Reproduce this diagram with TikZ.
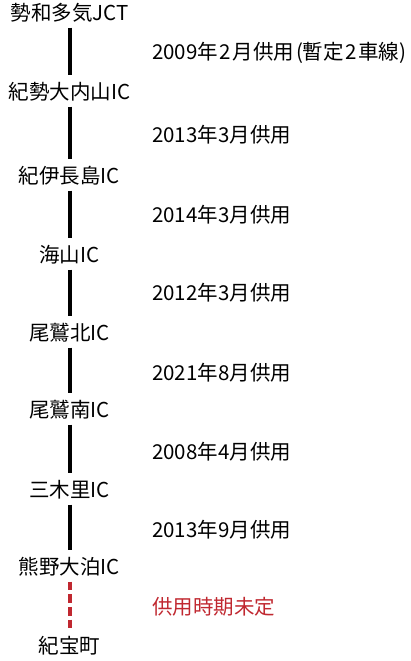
\documentclass[tikz,border=0pt]{standalone}
\usepackage{fontspec}
\setmainfont{Noto Sans CJK JP}
\definecolor{pendred}{RGB}{192,40,48}
\begin{document}
\begin{tikzpicture}[x=1pt,y=1pt,
  lbl/.style={inner sep=0pt,anchor=base,text height=24.3pt,text depth=6.7pt,font=\fontsize{20.5}{24}\selectfont},
  note/.style={inner sep=0pt,anchor=base west,font=\fontsize{20.5}{24}\selectfont},
  seg/.style={line width=3.3pt,black},
  pend/.style={line width=3.3pt,pendred,dash pattern=on 8.6pt off 4pt}]
\useasboundingbox (0,0) rectangle (410,-661);
\def\bs{7.8}
\node[lbl] (n1) at (69.5,{-(13+\bs)}) {勢和多気JCT};
\node[lbl] (n2) at (69.5,{-(92+\bs)}) {紀勢大内山IC};
\node[lbl] (n3) at (69.5,{-(176+\bs)}) {紀伊長島IC};
\node[lbl] (n4) at (69.5,{-(255+\bs)}) {海山IC};
\node[lbl] (n5) at (69.5,{-(333+\bs)}) {尾鷲北IC};
\node[lbl] (n6) at (69.5,{-(410+\bs)}) {尾鷲南IC};
\node[lbl] (n7) at (69.5,{-(490+\bs)}) {三木里IC};
\node[lbl] (n8) at (69.5,{-(567+\bs)}) {熊野大泊IC};
\node[lbl] (n9) at (69.5,{-(646+\bs)}) {紀宝町};
\draw[seg] ([xshift=0.5pt]n1.south) -- ([xshift=0.5pt]n2.north);
\draw[seg] ([xshift=0.5pt]n2.south) -- ([xshift=0.5pt]n3.north);
\draw[seg] ([xshift=0.5pt]n3.south) -- ([xshift=0.5pt]n4.north);
\draw[seg] ([xshift=0.5pt]n4.south) -- ([xshift=0.5pt]n5.north);
\draw[seg] ([xshift=0.5pt]n5.south) -- ([xshift=0.5pt]n6.north);
\draw[seg] ([xshift=0.5pt]n6.south) -- ([xshift=0.5pt]n7.north);
\draw[seg] ([xshift=0.5pt]n7.south) -- ([xshift=0.5pt]n8.north);
\draw[pend] ([xshift=0.5pt]n8.south) -- ([xshift=0.5pt]n9.north);
\node[note] (t1) at (152,{-(52+\bs)}) {2009年\kern1.5pt 2\kern1.5pt 月供用\kern2pt(暫定\kern1.5pt 2\kern1.5pt 車線)};
\node[note] (t2) at (152,{-(135+\bs)}) {2013年3月供用};
\node[note] (t3) at (152,{-(215+\bs)}) {2014年3月供用};
\node[note] (t4) at (152,{-(293+\bs)}) {2012年3月供用};
\node[note] (t5) at (152,{-(373+\bs)}) {2021年8月供用};
\node[note] (t6) at (152,{-(452+\bs)}) {2008年4月供用};
\node[note] (t7) at (152,{-(530+\bs)}) {2013年9月供用};
\node[note,text=pendred] (t8) at (152,{-(607+\bs)}) {供用時期未定};
\end{tikzpicture}
\end{document}
